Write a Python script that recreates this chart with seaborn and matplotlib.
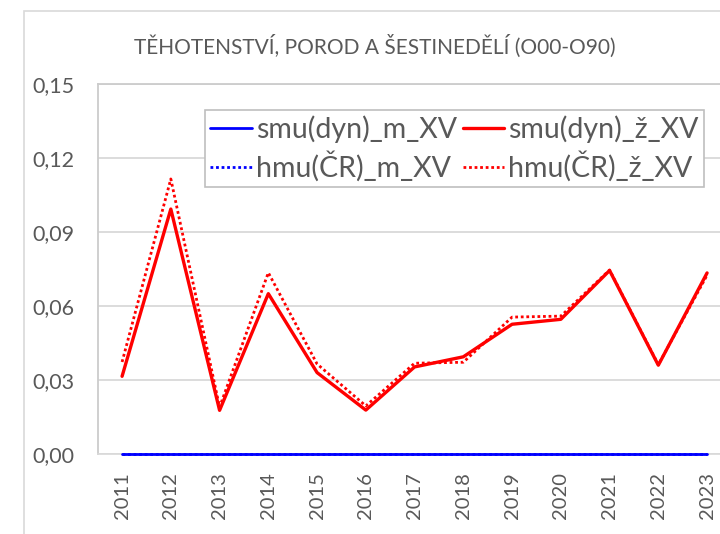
import numpy as np
import pandas as pd
import matplotlib
matplotlib.use("Agg")
import matplotlib.pyplot as plt
from matplotlib.patches import Rectangle
import seaborn as sns

years = [2011, 2012, 2013, 2014, 2015, 2016, 2017, 2018, 2019, 2020, 2021, 2022, 2023]
smu_m = [0.0] * 13
hmu_m = [0.0] * 13
smu_z = [0.0315, 0.0993, 0.0177, 0.0650, 0.0330, 0.0178, 0.0353, 0.0394, 0.0526, 0.0546, 0.0744, 0.0360, 0.0734]
hmu_z = [0.0373, 0.1115, 0.0190, 0.0735, 0.0365, 0.0195, 0.0368, 0.0372, 0.0555, 0.0559, 0.0746, 0.0362, 0.0725]
labels = ["smu(dyn)_m_XV", "hmu(ČR)_m_XV", "smu(dyn)_ž_XV", "hmu(ČR)_ž_XV"]
yticks = [0.00, 0.03, 0.06, 0.09, 0.12, 0.15]
title = "TĚHOTENSTVÍ, POROD A ŠESTINEDĚLÍ (O00-O90)"

sns.set_theme(style="white")
plt.rcParams["font.family"] = ["Lato", "DejaVu Sans"]
text_c = "#595959"
grid_c = "#d9d9d9"

W, H = 720, 534
fig = plt.figure(figsize=(W / 100, H / 100), dpi=100)
ax_left, ax_right, ax_top, ax_bottom = 97.7, 97.7 + 13 * 48.75, 84, 454
ax = fig.add_axes([ax_left / W, 1 - ax_bottom / H, (ax_right - ax_left) / W, (ax_bottom - ax_top) / H])

# chart border
fig.patches.append(Rectangle((24 / W, -0.1), 2, 1.1 - 11 / H, transform=fig.transFigure,
                             fill=False, edgecolor=grid_c, linewidth=1.2))

for yv in yticks:
    ax.axhline(yv, color=grid_c, linewidth=1.3, zorder=0)

df = pd.DataFrame({"year": years, "smu_m": smu_m, "hmu_m": hmu_m, "smu_z": smu_z, "hmu_z": hmu_z})

sns.lineplot(data=df, x="year", y="hmu_m", ax=ax, color="#0000ff", linewidth=2.0, linestyle=(0, (1, 1)), label=labels[1], zorder=4, clip_on=False)
sns.lineplot(data=df, x="year", y="smu_m", ax=ax, color="#0000ff", linewidth=2.0, label=labels[0], zorder=5, clip_on=False)
sns.lineplot(data=df, x="year", y="smu_z", ax=ax, color="#ff0000", linewidth=2.4, label=labels[2], zorder=3)
sns.lineplot(data=df, x="year", y="hmu_z", ax=ax, color="#ff0000", linewidth=2.0, linestyle=(0, (1, 1)), label=labels[3], zorder=3)

ax.set_xlim(years[0] - 0.5, years[-1] + 0.5)
ax.set_ylim(0, 0.15)
ax.set_xticks(years)
ax.set_xticklabels([str(y) for y in years], rotation=90, fontsize=14.5, color=text_c)
ax.set_yticks(yticks)
ax.set_yticklabels([f"{v:.2f}".replace(".", ",") for v in yticks], fontsize=15.5, color=text_c)
ax.tick_params(axis="both", length=0)
ax.tick_params(axis="y", pad=17)
ax.tick_params(axis="x", pad=13)
ax.set_xlabel("")
ax.set_ylabel("")
for s in ["left", "top"]:
    ax.spines[s].set_color("#cccccc")
    ax.spines[s].set_linewidth(1.3)
ax.spines["bottom"].set_color(grid_c)
ax.spines["right"].set_visible(False)

fig.text(375 / W, 1 - 46 / H, title, ha="center", va="center", fontsize=15, color=text_c)

handles, labs = ax.get_legend_handles_labels()
order = [labs.index(l) for l in labels]
leg = ax.legend([handles[i] for i in order], [labs[i] for i in order], ncol=2,
                loc="upper left", bbox_to_anchor=(204.7 / W, 1 - 109.7 / H),
                bbox_transform=fig.transFigure, fontsize=20.5, frameon=True, fancybox=False,
                edgecolor="#bfbfbf", framealpha=1, handlelength=1.45, handletextpad=0.15,
                columnspacing=0.2, borderpad=0.2, labelspacing=0.28, borderaxespad=0)
leg.get_frame().set_linewidth(1.2)
for t in leg.get_texts():
    t.set_color(text_c)

fig.savefig("out.png", dpi=100)
